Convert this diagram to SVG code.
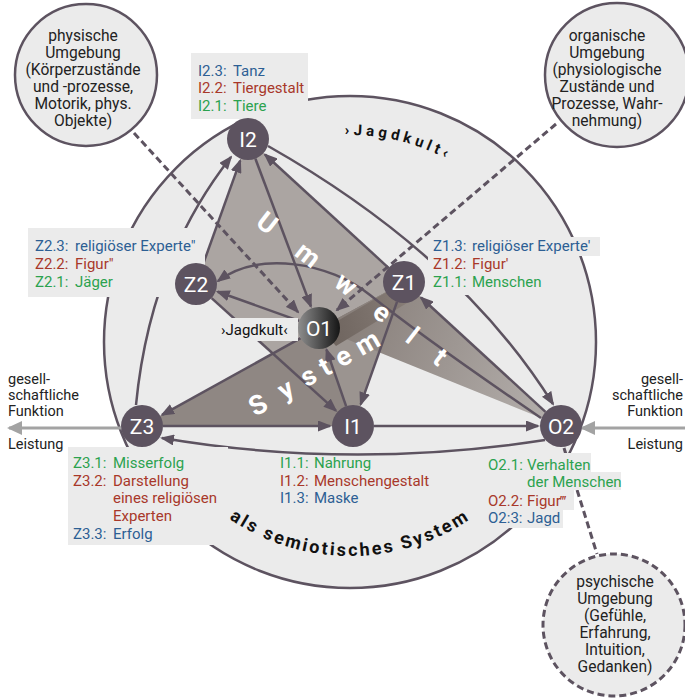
<svg xmlns="http://www.w3.org/2000/svg" width="685" height="700" viewBox="0 0 685 700">
<defs>
<style>
.ln{fill:none;stroke:#5d5360;stroke-width:2.5}
.dash{fill:none;stroke:#5d5360;stroke-width:3;stroke-dasharray:7 4}
.nd{fill:#5d5360}
.nt{font-family:Roboto,'Liberation Sans',sans-serif;font-size:21px;fill:#fff;text-anchor:middle}
.lb{font-family:Roboto,'Liberation Sans',sans-serif;font-size:15px}
.b{fill:#2d5f94}.r{fill:#a8382a}.g{fill:#2ba24f}
.box{fill:#ebebeb}
.ct{font-family:Roboto,'Liberation Sans',sans-serif;font-size:15.6px;fill:#222;text-anchor:middle}
.sd{font-family:Roboto,'Liberation Sans',sans-serif;font-size:14.5px;fill:#222}
.big{font-family:Roboto,'Liberation Sans',sans-serif;font-size:27px;font-weight:bold;fill:#fff;text-anchor:middle}
.arc{font-family:Roboto,'Liberation Sans',sans-serif;font-weight:bold;fill:#111}
</style>
<marker id="ah" viewBox="0 0 14 11" refX="12" refY="5.5" markerWidth="14" markerHeight="11" markerUnits="userSpaceOnUse" orient="auto"><path d="M0,0 L14,5.5 L0,11 z" fill="#5d5360"/></marker>
<marker id="ahg" viewBox="0 0 15 14" refX="13" refY="7" markerWidth="15" markerHeight="14" markerUnits="userSpaceOnUse" orient="auto"><path d="M0,0 L15,7 L0,14 z" fill="#a3a3a3"/></marker>
<linearGradient id="o1g" x1="0" y1="0" x2="1" y2="0"><stop offset="0" stop-color="#8e8e8e"/><stop offset="1" stop-color="#151515"/></linearGradient>
<linearGradient id="rg" gradientUnits="userSpaceOnUse" x1="330" y1="330" x2="560" y2="420"><stop offset="0" stop-color="#867d78"/><stop offset="1" stop-color="#b6b1ae"/></linearGradient>
<linearGradient id="dk" gradientUnits="userSpaceOnUse" x1="330" y1="330" x2="420" y2="300"><stop offset="0" stop-color="#6f655f"/><stop offset="1" stop-color="#8a807a"/></linearGradient>
<path id="topArc" d="M314.1,138.1 A207,207 0 0 1 483.1,183.4"/>
<path id="botArc" d="M148.9,415.2 A214,214 0 0 0 551.1,415.2"/>
</defs>
<rect width="685" height="700" fill="#fff"/>
<g id="umwelt-circle">
<circle cx="350" cy="342" r="246" fill="#ebebeb" stroke="#5d5360" stroke-width="2.5"/>
<text class="arc" font-size="15" letter-spacing="4"><textPath href="#topArc" startOffset="85" text-anchor="middle">›Jagdkult‹</textPath></text>
<text class="arc" font-size="18" letter-spacing="2.4"><textPath href="#botArc" startOffset="50%" text-anchor="middle">als semiotisches System</textPath></text>
</g>
<g id="shading">
<polygon points="248,139 404,282 319,328 273,353.5 196,284" fill="#aba5a2"/>
<polygon points="319,328 404,282 353,426" fill="#9b9490"/>
<polygon points="319,328 404,282 561,426" fill="url(#rg)"/>
<polygon points="322,330 404,282 412,300 336,346" fill="url(#dk)"/>
<polygon points="142,426 319,328 353,426" fill="#8f8783"/>
</g>
<g id="env-physisch">
<circle cx="86" cy="75" r="71" fill="#ebebeb" stroke="#5d5360" stroke-width="2.5"/>
<text class="ct"><tspan x="83" y="41">physische</tspan><tspan x="83" y="58">Umgebung</tspan><tspan x="83" y="75">(Körperzustände</tspan><tspan x="83" y="92">und -prozesse,</tspan><tspan x="83" y="109">Motorik, phys.</tspan><tspan x="83" y="126">Objekte)</tspan></text>
</g>
<g id="env-organisch">
<circle cx="617" cy="75" r="72" fill="#ebebeb" stroke="#5d5360" stroke-width="2.5"/>
<text class="ct"><tspan x="607" y="41">organische</tspan><tspan x="607" y="58">Umgebung</tspan><tspan x="607" y="75">(physiologische</tspan><tspan x="607" y="92">Zustände und</tspan><tspan x="607" y="109">Prozesse, Wahr-</tspan><tspan x="607" y="126">nehmung)</tspan></text>
</g>
<g id="env-psychisch">
<circle cx="614" cy="625" r="71" fill="#ebebeb" stroke="#5d5360" stroke-width="3" stroke-dasharray="7 4"/>
<text class="ct"><tspan x="615" y="587">psychische</tspan><tspan x="615" y="604">Umgebung</tspan><tspan x="615" y="621">(Gefühle,</tspan><tspan x="615" y="638">Erfahrung,</tspan><tspan x="615" y="655">Intuition,</tspan><tspan x="615" y="672">Gedanken)</tspan></text>
</g>
<g id="connectors">
<line class="dash" x1="134" y1="133" x2="298" y2="312" marker-end="url(#ah)"/>
<line class="dash" x1="556" y1="124" x2="337" y2="310" marker-end="url(#ah)"/>
<line class="dash" x1="564" y1="448" x2="597" y2="554"/>
<line class="ln" x1="255.4" y1="158.7" x2="310.9" y2="306.5" marker-end="url(#ah)"/>
<line class="ln" x1="299.2" y1="320.9" x2="217.7" y2="291.7" marker-end="url(#ah)"/>
<line class="ln" x1="211.6" y1="298.1" x2="335.9" y2="410.6" marker-end="url(#ah)"/>
<line class="ln" x1="346.1" y1="406.2" x2="326.5" y2="349.7" marker-end="url(#ah)"/>
<line class="ln" x1="397" y1="301.8" x2="360.7" y2="404.3" marker-end="url(#ah)"/>
<line class="ln" x1="545.5" y1="411.8" x2="421" y2="297.5" marker-end="url(#ah)"/>
<line class="ln" x1="388.5" y1="267.8" x2="265" y2="154.5" marker-end="url(#ah)"/>
<line class="ln" x1="203.1" y1="264.2" x2="240.2" y2="160.7" marker-end="url(#ah)"/>
<line class="ln" x1="300.6" y1="338.2" x2="162.1" y2="414.9" marker-end="url(#ah)"/>
<line class="ln" x1="163" y1="426" x2="330" y2="426" marker-end="url(#ah)"/>
<line class="ln" x1="374" y1="426" x2="538" y2="426" marker-end="url(#ah)"/>
<path class="ln" d="M136,405 Q150,260 231,157" marker-end="url(#ah)"/>
<path class="ln" d="M268,146 Q460,255 553,404" marker-end="url(#ah)"/>
<path class="ln" d="M541,418 C500,390 420,335 370,295 C330,263 260,250 218,281" marker-end="url(#ah)"/>
<path class="ln" d="M545,440 Q350,470 162,438" marker-end="url(#ah)"/>
<line x1="121" y1="428" x2="9" y2="428" stroke="#a3a3a3" stroke-width="3" marker-end="url(#ahg)"/>
<line x1="685" y1="428" x2="582" y2="428" stroke="#a3a3a3" stroke-width="3" marker-end="url(#ahg)"/>
</g>
<g id="side-labels">
<text class="sd"><tspan x="8" y="384">gesell-</tspan><tspan x="8" y="400">schaftliche</tspan><tspan x="8" y="416">Funktion</tspan><tspan x="8" y="449">Leistung</tspan></text>
<text class="sd" text-anchor="end"><tspan x="683" y="384">gesell-</tspan><tspan x="683" y="400">schaftliche</tspan><tspan x="683" y="416">Funktion</tspan><tspan x="683" y="449">Leistung</tspan></text>
</g>
<g id="label-I2">
<rect class="box" x="191" y="53" width="117" height="66"/>
<text class="lb b" y="75.5"><tspan x="198">I2.3:</tspan><tspan x="233">Tanz</tspan></text>
<text class="lb r" y="93"><tspan x="198">I2.2:</tspan><tspan x="233">Tiergestalt</tspan></text>
<text class="lb g" y="110.5"><tspan x="198">I2.1:</tspan><tspan x="233">Tiere</tspan></text>
</g>
<g id="label-Z2">
<rect class="box" x="28" y="228" width="177" height="69"/>
<text class="lb b" y="250.5"><tspan x="35">Z2.3:</tspan><tspan x="75">religiöser Experte″</tspan></text>
<text class="lb r" y="268.5"><tspan x="35">Z2.2:</tspan><tspan x="75">Figur″</tspan></text>
<text class="lb g" y="286.5"><tspan x="35">Z2.1:</tspan><tspan x="75">Jäger</tspan></text>
</g>
<g id="label-Z1">
<rect class="box" x="428" y="237" width="172" height="19"/>
<rect class="box" x="428" y="256" width="118" height="39"/>
<text class="lb b" y="251"><tspan x="433">Z1.3:</tspan><tspan x="472">religiöser Experte′</tspan></text>
<text class="lb r" y="269"><tspan x="433">Z1.2:</tspan><tspan x="472">Figur′</tspan></text>
<text class="lb g" y="287"><tspan x="433">Z1.1:</tspan><tspan x="472">Menschen</tspan></text>
</g>
<g id="label-Z3">
<rect class="box" x="68" y="447" width="160" height="98"/>
<text class="lb g" y="468"><tspan x="73">Z3.1:</tspan><tspan x="113">Misserfolg</tspan></text>
<text class="lb r"><tspan x="73" y="485.5">Z3.2:</tspan><tspan x="113" y="485.5">Darstellung</tspan><tspan x="113" y="503">eines religiösen</tspan><tspan x="113" y="520.5">Experten</tspan></text>
<text class="lb b" y="538.5"><tspan x="73">Z3.3:</tspan><tspan x="113">Erfolg</tspan></text>
</g>
<g id="label-I1">
<text class="lb g" y="468"><tspan x="280">I1.1:</tspan><tspan x="314">Nahrung</tspan></text>
<text class="lb r" y="485.5"><tspan x="280">I1.2:</tspan><tspan x="314">Menschengestalt</tspan></text>
<text class="lb b" y="503"><tspan x="280">I1.3:</tspan><tspan x="314">Maske</tspan></text>
</g>
<g id="label-O2">
<rect class="box" x="487" y="453" width="104" height="19"/>
<rect class="box" x="487" y="472" width="134" height="18"/>
<rect class="box" x="487" y="490" width="87" height="20"/>
<rect class="box" x="487" y="510" width="76" height="18"/>
<text class="lb g"><tspan x="488" y="470">O2.1:</tspan><tspan x="527" y="470">Verhalten</tspan><tspan x="527" y="487">der Menschen</tspan></text>
<text class="lb r" y="505.5"><tspan x="488">O2.2:</tspan><tspan x="527">Figur‴</tspan></text>
<text class="lb b" y="522.5"><tspan x="488">O2:3:</tspan><tspan x="527">Jagd</tspan></text>
</g>
<g id="label-O1">
<rect class="box" x="216" y="318" width="82" height="23"/>
<text class="lb" fill="#111" x="221" y="334.5">›Jagdkult‹</text>
</g>
<g id="axis-words">
<text class="big" transform="translate(267,223) rotate(37.8)"><tspan x="0 52 100 146 184 219" y="9">Umwelt</tspan></text>
<text class="big" transform="translate(258,405) rotate(-29.6)"><tspan x="0 32 58 77 98 126" y="9">System</tspan></text>
</g>
<g id="node-I2"><circle class="nd" cx="248" cy="139" r="21"/><text class="nt" x="248" y="146.5">I2</text></g>
<g id="node-Z2"><circle class="nd" cx="196" cy="284" r="21"/><text class="nt" x="196" y="291.5">Z2</text></g>
<g id="node-Z1"><circle class="nd" cx="404" cy="282" r="21"/><text class="nt" x="404" y="289.5">Z1</text></g>
<g id="node-O1"><circle cx="319" cy="328" r="21" fill="url(#o1g)"/><text class="nt" x="319" y="335.5">O1</text></g>
<g id="node-Z3"><circle class="nd" cx="142" cy="426" r="21"/><text class="nt" x="142" y="433.5">Z3</text></g>
<g id="node-I1"><circle class="nd" cx="353" cy="426" r="21"/><text class="nt" x="353" y="433.5">I1</text></g>
<g id="node-O2"><circle class="nd" cx="561" cy="426" r="21"/><text class="nt" x="561" y="433.5">O2</text></g>
</svg>
